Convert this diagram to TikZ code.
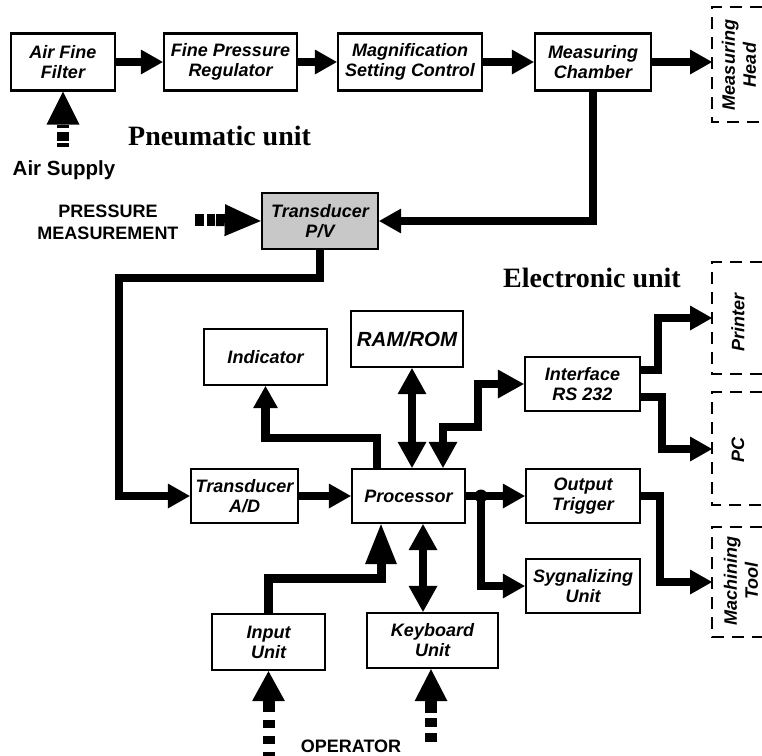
\documentclass[tikz,border=0pt]{standalone}
\usepackage{fontspec}
\newfontfamily\arialf{Liberation Sans}
\newfontfamily\timesf{Liberation Serif}
\usetikzlibrary{arrows.meta}
\definecolor{tgray}{RGB}{200,200,200}
\begin{document}
\begin{tikzpicture}[x=1pt,y=-1pt,line join=miter,
  blk/.style={draw, line width=2.4pt, align=center, inner sep=0pt,
    font=\arialf\bfseries\itshape\fontsize{18}{20}\selectfont},
  arr/.style={line width=8.5pt, -{Triangle[length=22pt,width=25pt,line width=0pt]}},
  dbl/.style={line width=8.5pt, {Triangle[length=26pt,width=29pt,line width=0pt]}-{Triangle[length=26pt,width=29pt,line width=0pt]}},
  bigarr/.style={line width=9pt, -{Triangle[length=40pt,width=32pt,line width=0pt]}},
  inarr/.style={line width=12pt, -{Triangle[length=#1,width=33pt,line width=0pt]}},
  dbox/.style={line width=2.4pt, dash pattern=on 12pt off 8pt},
  side/.style={rotate=90, align=center, inner sep=0pt,
    font=\arialf\bfseries\itshape\fontsize{18}{21}\selectfont},
  lbl/.style={inner sep=0pt, font=\arialf\bfseries\fontsize{18}{22}\selectfont, align=center},
  unitlbl/.style={inner sep=0pt, font=\timesf\bfseries\fontsize{28}{30}\selectfont}
]
\useasboundingbox (0,0) rectangle (762,755);
\fill[white] (0,0) rectangle (762,755);

% ---- boxes ----
\node[blk, minimum width=104pt, minimum height=57pt] (filter) at (63,62) {Air Fine\\Filter};
\node[blk, minimum width=133pt, minimum height=57pt] (reg) at (230.5,62) {Fine Pressure\\Regulator};
\node[blk, minimum width=144pt, minimum height=57pt] (mag) at (410,62) {Magnification\\Setting Control};
\node[blk, minimum width=116pt, minimum height=57pt] (chamber) at (593,62) {Measuring\\Chamber};
\node[blk, fill=tgray, minimum width=116pt, minimum height=56pt] (tpv) at (320,221) {Transducer\\P/V};
\node[blk, minimum width=123pt, minimum height=56pt] (ind) at (265.5,357) {Indicator};
\node[blk, minimum width=112pt, minimum height=56pt,
  font=\arialf\bfseries\itshape\fontsize{20.5}{22}\selectfont] (ram) at (407,339) {RAM/ROM};
\node[blk, minimum width=115pt, minimum height=54pt] (iface) at (582.5,384) {Interface\\RS 232};
\node[blk, minimum width=107pt, minimum height=54pt] (tad) at (244.5,496) {Transducer\\A/D};
\node[blk, minimum width=113pt, minimum height=54pt] (proc) at (408.5,496) {Processor};
\node[blk, minimum width=114pt, minimum height=54pt] (out) at (583,496) {Output\\Trigger};
\node[blk, minimum width=114pt, minimum height=54pt] (syg) at (583,586) {Sygnalizing\\Unit};
\node[blk, minimum width=113pt, minimum height=56pt] (inp) at (268.5,642) {Input\\Unit};
\node[blk, minimum width=131pt, minimum height=55pt] (kbd) at (432.5,640.5) {Keyboard\\Unit};

% ---- dashed external boxes ----
\draw[dbox] (762,7) -- (712,7) -- (712,122) -- (762,122);
\draw[dbox] (762,262) -- (712,262) -- (712,374) -- (762,374);
\draw[dbox] (762,392) -- (712,392) -- (712,505) -- (762,505);
\draw[dbox] (762,527) -- (712,527) -- (712,637) -- (762,637);
\node[side] (mhead) at (739,65) {Measuring\\Head};
\node[side] (prn) at (738,322) {Printer};
\node[side] (pc) at (738,450) {PC};
\node[side] (mtool) at (741,581) {Machining\\Tool};

\coordinate (mhin) at (712,62);
\coordinate (prnin) at (712,318);
\coordinate (pcin) at (712,449);
\coordinate (mtin) at (712,582);

% ---- labels ----
\node[lbl, anchor=base, font=\arialf\bfseries\fontsize{20.5}{22}\selectfont] (airsup) at (64,175) {Air Supply};
\node[unitlbl, anchor=base west] (pneu) at (128,145) {Pneumatic unit};
\node[unitlbl, anchor=base west] (elec) at (503,287) {Electronic unit};
\node[lbl] (pmeas) at (108,222) {PRESSURE\\MEASUREMENT};
\node[lbl, anchor=base] (oper) at (351,752) {OPERATOR};

% ---- top row ----
\draw[arr] (filter) -- (reg);
\draw[arr] (reg) -- (mag);
\draw[arr] (mag) -- (chamber);
\draw[arr] (chamber) -- (mhin);
\draw[arr] (chamber.south) |- (tpv.east);

% ---- air supply ----
\coordinate (as1) at (63,132);
\coordinate (as2) at (63,160);
\coordinate (asb) at (63,128);
\draw[line width=12pt, dash pattern=on 9pt off 2pt on 4pt off 30pt] (as1) -- (as2);
\draw[inarr=33pt] (asb) -- (filter.south);

% ---- pressure measurement ----
\coordinate (pm1) at (195,220);
\coordinate (pm2) at (216,220);
\draw[line width=12pt, dash pattern=on 9pt off 3pt on 8pt off 30pt] (pm1) -- (pm2);
\draw[line width=12pt, -{Triangle[length=36pt,width=32pt,line width=0pt]}] (pm2) -- (tpv.west);

% ---- transducer chain ----
\coordinate (c1) at (119,278);
\draw[arr] (tpv.south) |- (c1) |- (tad.west);
\draw[arr] (tad) -- (proc);

% ---- processor to indicator ----
\coordinate (c2) at (265.5,438);
\draw[arr] ([xshift=-31.5pt]proc.north) |- (c2) -- (ind.south);

% ---- RAM/ROM ----
\draw[dbl] ([xshift=5pt]ram.south) -- ([xshift=5pt]ram.south |- proc.north);

% ---- interface ----
\coordinate (c3) at (478,427);
\draw[dbl] ([xshift=34.5pt]proc.north) |- (c3) |- (iface.west);
\coordinate (c4) at (658,318);
\draw[arr] ([yshift=14pt]iface.east) -| (c4) -- (prnin);
\coordinate (c5) at (662,449);
\draw[arr] ([yshift=-13pt]iface.east) -| (c5) -- (pcin);

% ---- outputs ----
\coordinate (jn) at (481,496);
\draw[arr] (proc.east) -- (out.west);
\fill (jn) circle (6.5pt);
\draw[arr] (jn) |- (syg.west);
\coordinate (c6) at (660,582);
\draw[arr] (out.east) -| (c6) -- (mtin);

% ---- inputs ----
\coordinate (c7) at (268.5,578);
\draw[bigarr] (inp.north) |- (c7) -| ([xshift=-27.5pt]proc.south);
\draw[dbl] ([xshift=14.5pt]proc.south) -- ([xshift=14.5pt]proc.south |- kbd.north);

% ---- operator ----
\coordinate (op1) at (268.5,712);
\coordinate (op1d) at (268.5,720);
\coordinate (op1e) at (268.5,762);
\draw[inarr=30pt] (op1) -- (inp.south);
\draw[line width=12pt, dash pattern=on 8pt off 8pt] (op1d) -- (op1e);
\coordinate (op2) at (431,713);
\coordinate (op2d) at (431,718);
\coordinate (op2e) at (431,745);
\draw[inarr=32pt] (op2) -- (kbd.south -| op2);
\draw[line width=12pt, dash pattern=on 9pt off 6pt] (op2d) -- (op2e);
\end{tikzpicture}
\end{document}
